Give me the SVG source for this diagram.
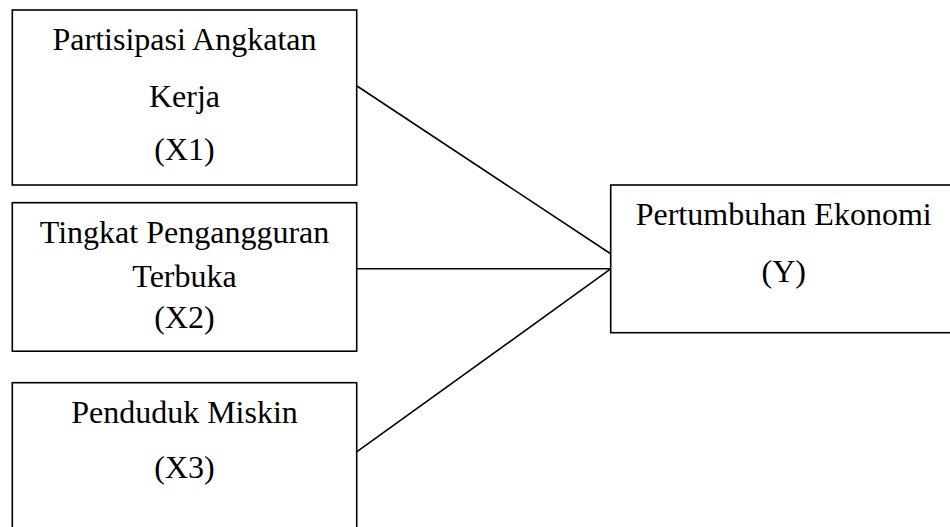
<svg xmlns="http://www.w3.org/2000/svg" width="950" height="527" viewBox="0 0 950 527">
<style>
rect{fill:#fff;stroke:#000;stroke-width:1.6}
line{stroke:#000;stroke-width:1.6}
text{font-family:"Liberation Serif","Times New Roman",serif;font-size:32px;fill:#000;text-anchor:middle}
</style>
<rect x="0" y="0" width="950" height="527" style="stroke:none"/>
<g id="connectors">
<line x1="357" y1="86" x2="611" y2="254"/>
<line x1="357" y1="268.7" x2="611" y2="268.7"/>
<line x1="357" y1="451.7" x2="611" y2="268.7"/>
</g>
<g id="x1">
<rect x="12.3" y="10" width="344.4" height="175"/>
<text x="184.5" y="50">Partisipasi Angkatan</text>
<text x="184.5" y="106.7">Kerja</text>
<text x="184.5" y="160">(X1)</text>
</g>
<g id="x2">
<rect x="12.3" y="202.7" width="344.4" height="148.5"/>
<text x="184.5" y="243.3">Tingkat Pengangguran</text>
<text x="184.5" y="286.7">Terbuka</text>
<text x="184.5" y="328.3">(X2)</text>
</g>
<g id="x3">
<rect x="12.3" y="382.7" width="344.4" height="160"/>
<text x="184.5" y="423.3">Penduduk Miskin</text>
<text x="184.5" y="478.3">(X3)</text>
</g>
<g id="y">
<rect x="610.7" y="185" width="350" height="147.7"/>
<text x="783.7" y="225">Pertumbuhan Ekonomi</text>
<text x="783.7" y="281.7">(Y)</text>
</g>
</svg>
